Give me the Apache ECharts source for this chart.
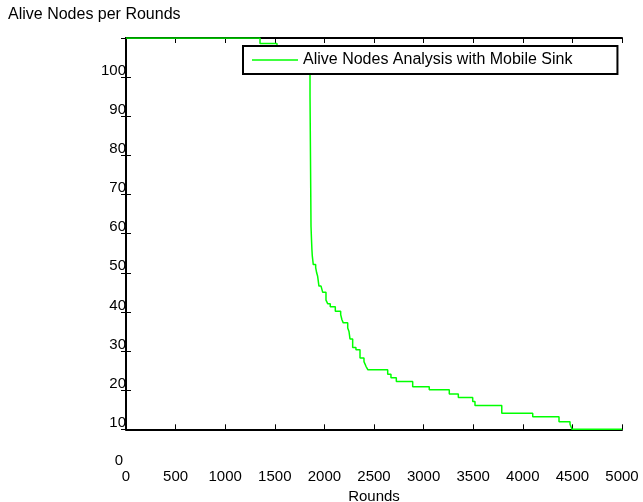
<!DOCTYPE html>
<html>
<head>
<meta charset="utf-8">
<script src="https://cdn.jsdelivr.net/npm/echarts@6/dist/echarts.min.js"></script>
<style>
html,body{margin:0;padding:0;background:#fff;}
#chart{width:643px;height:502px;}
</style>
</head>
<body>
<div id="chart"></div>
<script>
var titleText = 'Alive Nodes per Rounds';
var seriesName = 'Alive Nodes Analysis with Mobile Sink';
var xAxisName = 'Rounds';
var rounds = [0, 1351, 1522, 1855, 1865, 1870, 1874, 1878, 1888, 1912, 1922, 1932, 1945, 1966, 1983, 2016, 2033, 2059, 2110, 2164, 2177, 2190, 2235, 2248, 2258, 2285, 2318, 2359, 2399, 2419, 2439, 2638, 2671, 2725, 2890, 3057, 3259, 3350, 3495, 3518, 3788, 4100, 4365, 4476, 4496, 5000];
var alive = [110, 108.6, 104, 95.3, 61.9, 58.5, 56, 54.3, 52.1, 51.3, 50, 49.1, 46.6, 46.2, 45, 43, 42.1, 41.3, 40.2, 39.3, 38, 37.2, 35.9, 35, 33.1, 30.9, 30.3, 28.2, 27.3, 26.1, 25.2, 24.1, 23.2, 22.2, 20.9, 20.1, 19, 18.1, 17.1, 16.1, 14.1, 13.2, 11.9, 11.3, 10, 10];
var xTicks = [0, 500, 1000, 1500, 2000, 2500, 3000, 3500, 4000, 4500, 5000];
var yTicks = [10, 20, 30, 40, 50, 60, 70, 80, 90, 100];
var yExtraLabel = '0';

var FONT = "'Liberation Sans', Arial, sans-serif";
var points = rounds.map(function (r, i) { return [r, alive[i]]; });

var chart = echarts.init(document.getElementById('chart'), null, {renderer: 'canvas'});
var axisLine = {show: true, lineStyle: {color: '#000', width: 2}};
var axisTick = {show: true, inside: true, length: 5, lineStyle: {color: '#000', width: 1}};
chart.setOption({
  animation: false,
  backgroundColor: '#fff',
  title: {
    text: titleText, left: 3, top: 2,
    textStyle: {fontFamily: FONT, fontSize: 16, fontWeight: 'normal', color: '#000'}
  },
  legend: {
    data: [{name: seriesName, icon: 'rect'}],
    left: 243, top: 46,
    orient: 'horizontal',
    padding: [6, 45, 6, 9],
    itemWidth: 46, itemHeight: 1.5,
    backgroundColor: '#fff',
    borderColor: '#000', borderWidth: 2,
    itemStyle: {color: '#00ff00'},
    textStyle: {fontFamily: FONT, fontSize: 16, color: '#000', lineHeight: 16}
  },
  grid: {left: 126, right: 21, top: 38, bottom: 72.7, containLabel: false, outerBoundsMode: 'none'},
  xAxis: [{
    type: 'value', position: 'bottom', min: 0, max: 5000, interval: 500,
    axisLine: axisLine, axisTick: axisTick, splitLine: {show: false},
    axisLabel: {fontFamily: FONT, fontSize: 15, color: '#000', margin: 40,
      customValues: xTicks, formatter: function (v) { return String(v); }},
    name: xAxisName, nameLocation: 'middle', nameGap: 55,
    nameTextStyle: {fontFamily: FONT, fontSize: 15, color: '#000'}
  }, {
    type: 'value', position: 'top', min: 0, max: 5000, interval: 500,
    axisLine: axisLine, axisTick: axisTick, splitLine: {show: false},
    axisLabel: {show: false}
  }],
  yAxis: [{
    type: 'value', position: 'left', min: 10, max: 110, interval: 10,
    axisLine: axisLine, axisTick: axisTick, splitLine: {show: false},
    axisLabel: {fontFamily: FONT, fontSize: 15, color: '#000', margin: 0,
      verticalAlign: 'bottom', lineHeight: 13, customValues: yTicks}
  }, {
    type: 'value', position: 'right', min: 10, max: 110, interval: 10,
    axisLine: axisLine, axisTick: axisTick, splitLine: {show: false},
    axisLabel: {show: false}
  }],
  graphic: [{
    type: 'text', x: 123, y: 461,
    style: {text: yExtraLabel, fontFamily: FONT, fontSize: 15, fill: '#000',
      align: 'right', verticalAlign: 'middle'}
  }],
  series: [{
    name: seriesName, type: 'line', step: 'end',
    xAxisIndex: 0, yAxisIndex: 0,
    data: points, symbol: 'none', showSymbol: false,
    lineStyle: {color: '#00ff00', width: 1.5},
    itemStyle: {color: '#00ff00'}
  }]
});
</script>
</body>
</html>
